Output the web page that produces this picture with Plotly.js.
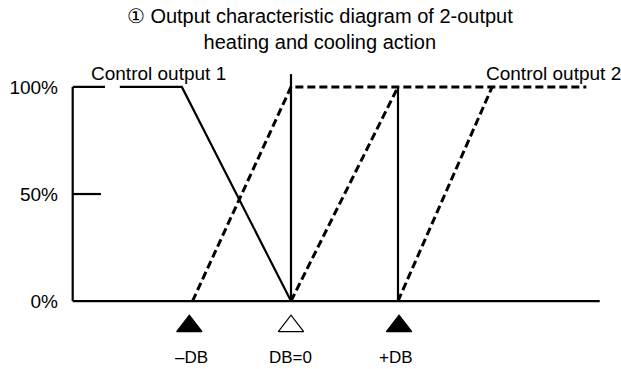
<!DOCTYPE html>
<html>
<head>
<meta charset="utf-8">
<script src="https://cdn.plot.ly/plotly-3.0.1.min.js"></script>
<style>html,body{margin:0;padding:0;background:#fff;}#chart{width:621px;height:369px;}</style>
</head>
<body>
<div id="chart"></div>
<script>
// Positions along the deviation axis, in units of the dead band DB (DB=0 at 0, +DB at 1)
const out1X = [-1.60, -1.02, 0];
const out1Y = [100, 100, 0];
const out2aX = [-0.92, 0, 2.76];
const out2aY = [0, 100, 100];
const out2bX = [0, 1];
const out2bY = [0, 100];
const out2cX = [1, 1.88];
const out2cY = [0, 100];
const ref0X = [0, 0];
const ref0Y = [0, 106];
const refDBX = [1, 1];
const refDBY = [0, 100];
const markerX = [-0.95, 0, 1.01];
const markerSymbols = ['triangle-up', 'triangle-up-open', 'triangle-up'];
const labelX = [-0.93, 0, 0.98];
const labelText = ['\u2013DB', 'DB=0', '+DB'];
const yTickVals = [0, 50, 100];
const yTickText = ['0%', '50%', '100%'];
const yTickEnd = [-2.04, -1.776, -1.738];
const seriesNames = ['Control output 1', 'Control output 2'];
const axisLeft = -2.04;
const axisRight = 2.885;

const FONT = 'Liberation Sans, Arial, sans-serif';
const solid = {color: '#000', width: 2.2};
const dashed = {color: '#000', width: 3, dash: '8px,4px'};
const axisLine = {color: '#000', width: 2.2};

const traces = [
  // axes drawn as lines so they only span the 0–100 % box
  {x: [axisLeft, axisRight], y: [0, 0], mode: 'lines', line: axisLine, hoverinfo: 'skip'},
  {x: [axisLeft, axisLeft], y: [0, 100], mode: 'lines', line: axisLine, hoverinfo: 'skip'},
  {x: [axisLeft, yTickEnd[1]], y: [yTickVals[1], yTickVals[1]], mode: 'lines', line: axisLine, hoverinfo: 'skip'},
  {x: [axisLeft, yTickEnd[2]], y: [yTickVals[2], yTickVals[2]], mode: 'lines', line: axisLine, hoverinfo: 'skip'},
  {x: out1X, y: out1Y, mode: 'lines', line: solid, name: seriesNames[0]},
  {x: out2aX, y: out2aY, mode: 'lines', line: dashed, name: seriesNames[1]},
  {x: out2bX, y: out2bY, mode: 'lines', line: dashed, name: seriesNames[1]},
  {x: out2cX, y: out2cY, mode: 'lines', line: dashed, name: seriesNames[1]},
  {x: ref0X, y: ref0Y, mode: 'lines', line: solid},
  {x: refDBX, y: refDBY, mode: 'lines', line: solid},
  {x: markerX, y: markerX.map(() => -11.7), mode: 'markers',
   marker: {symbol: markerSymbols, size: 22, color: '#000', line: {color: '#000', width: 1.2}}}
];

const annotations = labelText.map((t, i) => ({
  x: labelX[i], y: -26.2, xref: 'x', yref: 'y', text: t, showarrow: false,
  xanchor: 'center', yanchor: 'middle', font: {family: FONT, size: 17, color: '#000'}
}));
annotations.push({x: -1.24, y: 106.5, xref: 'x', yref: 'y', text: seriesNames[0], showarrow: false,
  xanchor: 'center', yanchor: 'middle', font: {family: FONT, size: 19, color: '#000'}});
annotations.push({x: 2.45, y: 106.5, xref: 'x', yref: 'y', text: seriesNames[1], showarrow: false,
  xanchor: 'center', yanchor: 'middle', font: {family: FONT, size: 19, color: '#000'}});

const layout = {
  width: 621, height: 369,
  margin: {l: 62, r: 12, t: 60, b: 5},
  paper_bgcolor: '#fff', plot_bgcolor: '#fff',
  showlegend: false,
  title: {
    text: '\u2460 Output characteristic diagram of 2-output<br>heating and cooling action',
    x: 0.515, xref: 'container', xanchor: 'center',
    y: 0.938, yref: 'container', yanchor: 'middle',
    font: {family: FONT, size: 20, color: '#000'}
  },
  xaxis: {
    range: [-2.140, 2.972], showgrid: false, zeroline: false, showline: false,
    showticklabels: false, ticks: '', fixedrange: true
  },
  yaxis: {
    range: [-29.4, 112.6], showgrid: false, zeroline: false, showline: false,
    tickvals: yTickVals, ticktext: yTickText, ticks: '',
    ticklabelstandoff: 3,
    tickfont: {family: FONT, size: 19, color: '#000'}, fixedrange: true
  },
  annotations: annotations
};

Plotly.newPlot('chart', traces, layout, {displayModeBar: false, staticPlot: true});
</script>
</body>
</html>
